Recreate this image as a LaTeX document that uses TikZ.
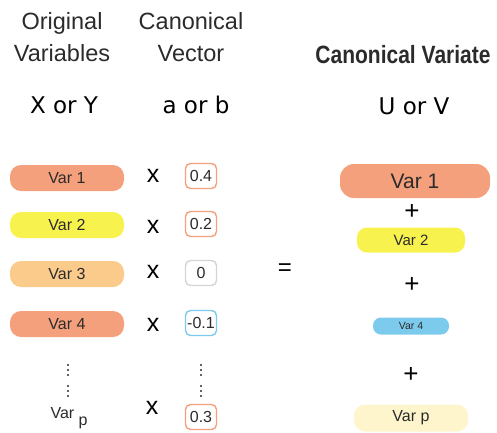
\documentclass[tikz,border=0pt]{standalone}
\usepackage{fontspec}
\setmainfont{Liberation Sans}
\newfontfamily\djv{DejaVu Sans}
\usepackage{graphicx}
\definecolor{salmon}{HTML}{F4A07C}
\definecolor{yel}{HTML}{F8F24E}
\definecolor{lorange}{HTML}{FBCB8C}
\definecolor{sky}{HTML}{7CCBEC}
\definecolor{cream}{HTML}{FEF5CC}
\definecolor{boxgrey}{HTML}{D4D4D4}
\definecolor{txt}{HTML}{2B2B2B}
\tikzset{
  pill/.style={rounded corners=#1, inner sep=0pt, text=txt},
  lpill/.style={pill=11pt, minimum width=114pt, minimum height=26pt, font=\fontsize{16}{16}\selectfont},
  coef/.style={draw=#1, line width=1.4pt, rounded corners=5pt, minimum width=31pt, minimum height=25pt, inner sep=0pt, text=txt, font=\fontsize{16}{16}\selectfont},
  times/.style={font=\fontsize{25}{25}\selectfont, text=black},
  plus/.style={font=\fontsize{26}{26}\selectfont, text=black},
  head/.style={align=center, text=txt, font=\fontsize{23.5}{32}\selectfont},
  sub/.style={text=black, font=\djv\fontsize{23}{23}\selectfont},
  dotc/.style={circle, fill=txt, inner sep=0pt, minimum size=2.2pt},
}
\begin{document}
\begin{tikzpicture}[x=1pt,y=-1pt]
\useasboundingbox (0,0) rectangle (497,432);
% headers
\node[head] (h1) at (62,37) {Original\\Variables};
\node[head] (h2) at (191,37) {Canonical\\Vector};
\node[text=txt, font=\bfseries\fontsize{25}{25}\selectfont] (h3) at (403,55) {\scalebox{0.84}[1]{Canonical Variate}};
\node[sub, anchor=base] (s1) at (64,113) {X or Y};
\node[sub, anchor=base] (s2) at (196,113) {a or b};
\node[sub, anchor=base] (s3) at (414,114) {U or V};
% left pills
\node[lpill, fill=salmon] (v1) at (67,178) {Var 1};
\node[lpill, fill=yel] (v2) at (67,225) {Var 2};
\node[lpill, fill=lorange] (v3) at (67,274) {Var 3};
\node[lpill, fill=salmon] (v4) at (67,324) {Var 4};
\node[text=txt, font=\fontsize{16}{16}\selectfont, anchor=base west] (vp) at (47,418) {Var\raisebox{-7pt}{ p}};
% times
\node[times] (t1) at (153,176) {x};
\node[times] (t2) at (153,227) {x};
\node[times] (t3) at (153,272) {x};
\node[times] (t4) at (153,325) {x};
\node[times] (tp) at (152,408) {x};
% coefficients
\node[coef=salmon] (c1) at (201,176) {0.4};
\node[coef=salmon] (c2) at (201,224) {0.2};
\node[coef=boxgrey] (c3) at (201,273) {0};
\node[coef=sky] (c4) at (201,323) {-0.1};
\node[coef=salmon] (cp) at (201,417) {0.3};
% vertical dots
\foreach \yy in {365,370,375,386,391,396}{
  \node[dotc] at (68,\yy) {};
  \node[dotc] at (201,\yy) {};
}
% equals
\node[font=\fontsize{24}{24}\selectfont, text=black] (eq) at (285,270) {=};
% right side
\node[pill=14pt, fill=salmon, minimum width=150pt, minimum height=34pt, font=\fontsize{21}{21}\selectfont] (r1) at (415,181) {Var 1};
\node[plus] (p1) at (412,212) {+};
\node[pill=10pt, fill=yel, minimum width=108pt, minimum height=25pt, font=\fontsize{15}{15}\selectfont] (r2) at (411,240) {Var 2};
\node[plus] (p2) at (412,285) {+};
\node[pill=8pt, fill=sky, minimum width=76pt, minimum height=17pt, font=\fontsize{10.5}{10.5}\selectfont] (r4) at (411,326) {Var 4};
\node[plus] (p3) at (411,375) {+};
\node[pill=11pt, fill=cream, minimum width=114pt, minimum height=27pt, font=\fontsize{16}{16}\selectfont] (rp) at (411,418) {Var p};
\end{tikzpicture}
\end{document}
